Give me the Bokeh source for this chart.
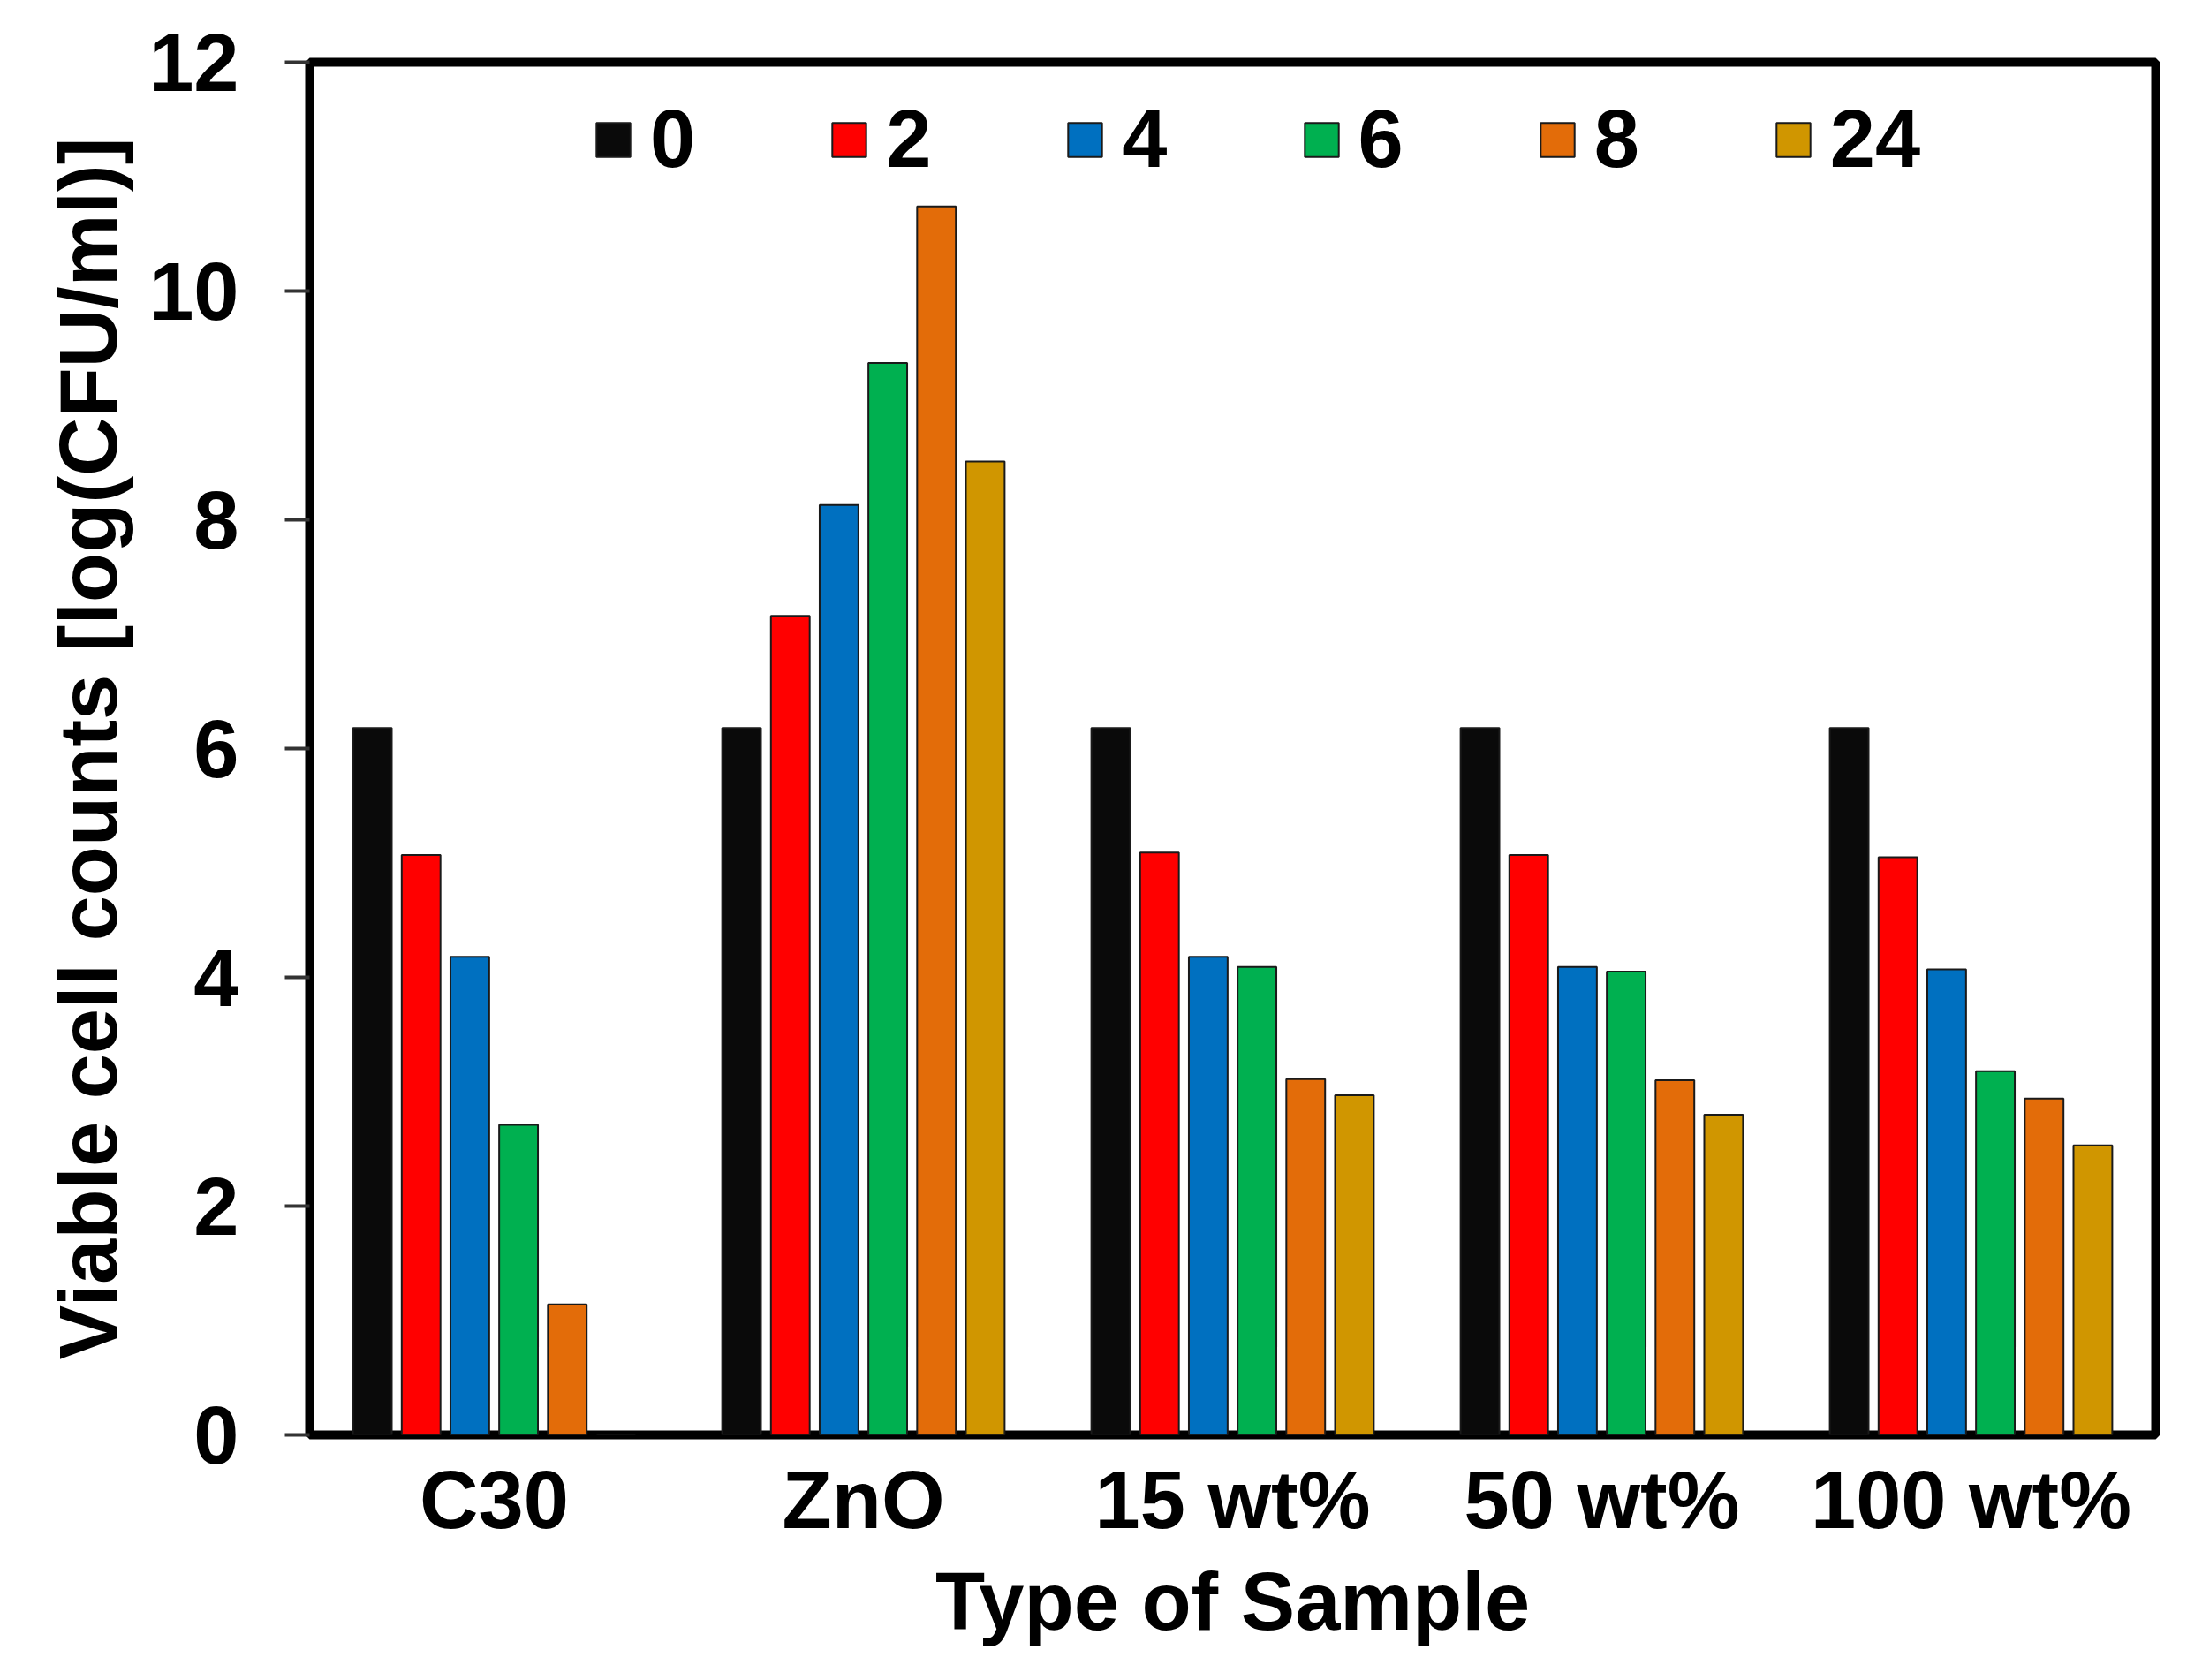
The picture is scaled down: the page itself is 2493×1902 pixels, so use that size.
from bokeh.plotting import figure
from bokeh.models import ColumnDataSource, FactorRange, Range1d, Legend, LegendItem, FixedTicker
from bokeh.transform import dodge
from bokeh.embed import file_html
from bokeh.resources import INLINE

# ---- data ----
samples = ["C30", "ZnO", "15 wt%", "50 wt%", "100 wt%"]
times = ["0", "2", "4", "6", "8", "24"]
t0 = [6.18, 6.18, 6.18, 6.18, 6.18]
t2 = [5.07, 7.16, 5.09, 5.07, 5.05]
t4 = [4.18, 8.13, 4.18, 4.09, 4.07]
t6 = [2.71, 9.37, 4.09, 4.05, 3.18]
t8 = [1.14, 10.74, 3.11, 3.10, 2.94]
t24 = [0.0, 8.51, 2.97, 2.80, 2.53]
y_ticks = [0, 2, 4, 6, 8, 10, 12]

colors = ["#0a0a0a", "#ff0000", "#0070c0", "#00b050", "#e36c09", "#d09600"]
FONT = "Liberation Sans"
FS = "92px"

source = ColumnDataSource(data=dict(sample=samples, t0=t0, t2=t2, t4=t4,
                                    t6=t6, t8=t8, t24=t24))
cols = ["t0", "t2", "t4", "t6", "t8", "t24"]

p = figure(x_range=FactorRange(*samples), y_range=Range1d(0, 12),
           width=2470, height=1880, output_backend="svg",
           toolbar_location=None, tools="")
p.min_border_left = 350
p.min_border_right = 30
p.min_border_top = 70
p.min_border_bottom = 256

pitch = 0.132
bw = 0.105
renderers = []
for i, (c, col) in enumerate(zip(cols, colors)):
    r = p.vbar(x=dodge("sample", (i - 2.5) * pitch, range=p.x_range), top=c,
               bottom=0, width=bw, source=source, fill_color=col,
               line_color="#1a1a1a", line_width=2)
    renderers.append(r)

legend = Legend(items=[LegendItem(label=t, renderers=[r]) for t, r in zip(times, renderers)],
                orientation="horizontal", location=(320, 1414))
legend.glyph_width = 48
legend.glyph_height = 48
legend.label_standoff = 18
legend.spacing = 150
legend.padding = 0
legend.margin = 0
legend.border_line_color = None
legend.background_fill_alpha = 0
legend.label_text_font = FONT
legend.label_text_font_size = FS
legend.label_text_font_style = "bold"
legend.label_text_color = "black"
p.add_layout(legend)

p.xgrid.visible = False
p.ygrid.visible = False
p.outline_line_color = "black"
p.outline_line_width = 10
p.outline_line_alpha = 1.0

# y axis
ya = p.yaxis[0]
ya.ticker = FixedTicker(ticks=y_ticks)
ya.minor_tick_line_color = None
ya.major_tick_out = 28
ya.major_tick_in = 0
ya.major_tick_line_width = 4
ya.major_tick_line_color = "#333333"
ya.axis_line_color = None
ya.major_label_standoff = 52
ya.major_label_text_font = FONT
ya.major_label_text_font_size = FS
ya.major_label_text_font_style = "bold"
ya.major_label_text_color = "black"
ya.axis_label = "Viable cell counts [log(CFU/ml)]"
ya.axis_label_text_font = FONT
ya.axis_label_text_font_size = FS
ya.axis_label_text_font_style = "bold"
ya.axis_label_text_color = "black"
ya.axis_label_standoff = 14

# x axis
xa = p.xaxis[0]
xa.major_tick_out = 0
xa.major_tick_in = 0
xa.major_tick_line_color = None
xa.minor_tick_line_color = None
xa.axis_line_color = None
xa.major_label_standoff = 22
xa.major_label_text_font = FONT
xa.major_label_text_font_size = FS
xa.major_label_text_font_style = "bold"
xa.major_label_text_color = "black"
xa.axis_label = "Type of Sample"
xa.axis_label_text_font = FONT
xa.axis_label_text_font_size = FS
xa.axis_label_text_font_style = "bold"
xa.axis_label_text_color = "black"
xa.axis_label_standoff = 10

open("out.html", "w").write(file_html(p, INLINE))
